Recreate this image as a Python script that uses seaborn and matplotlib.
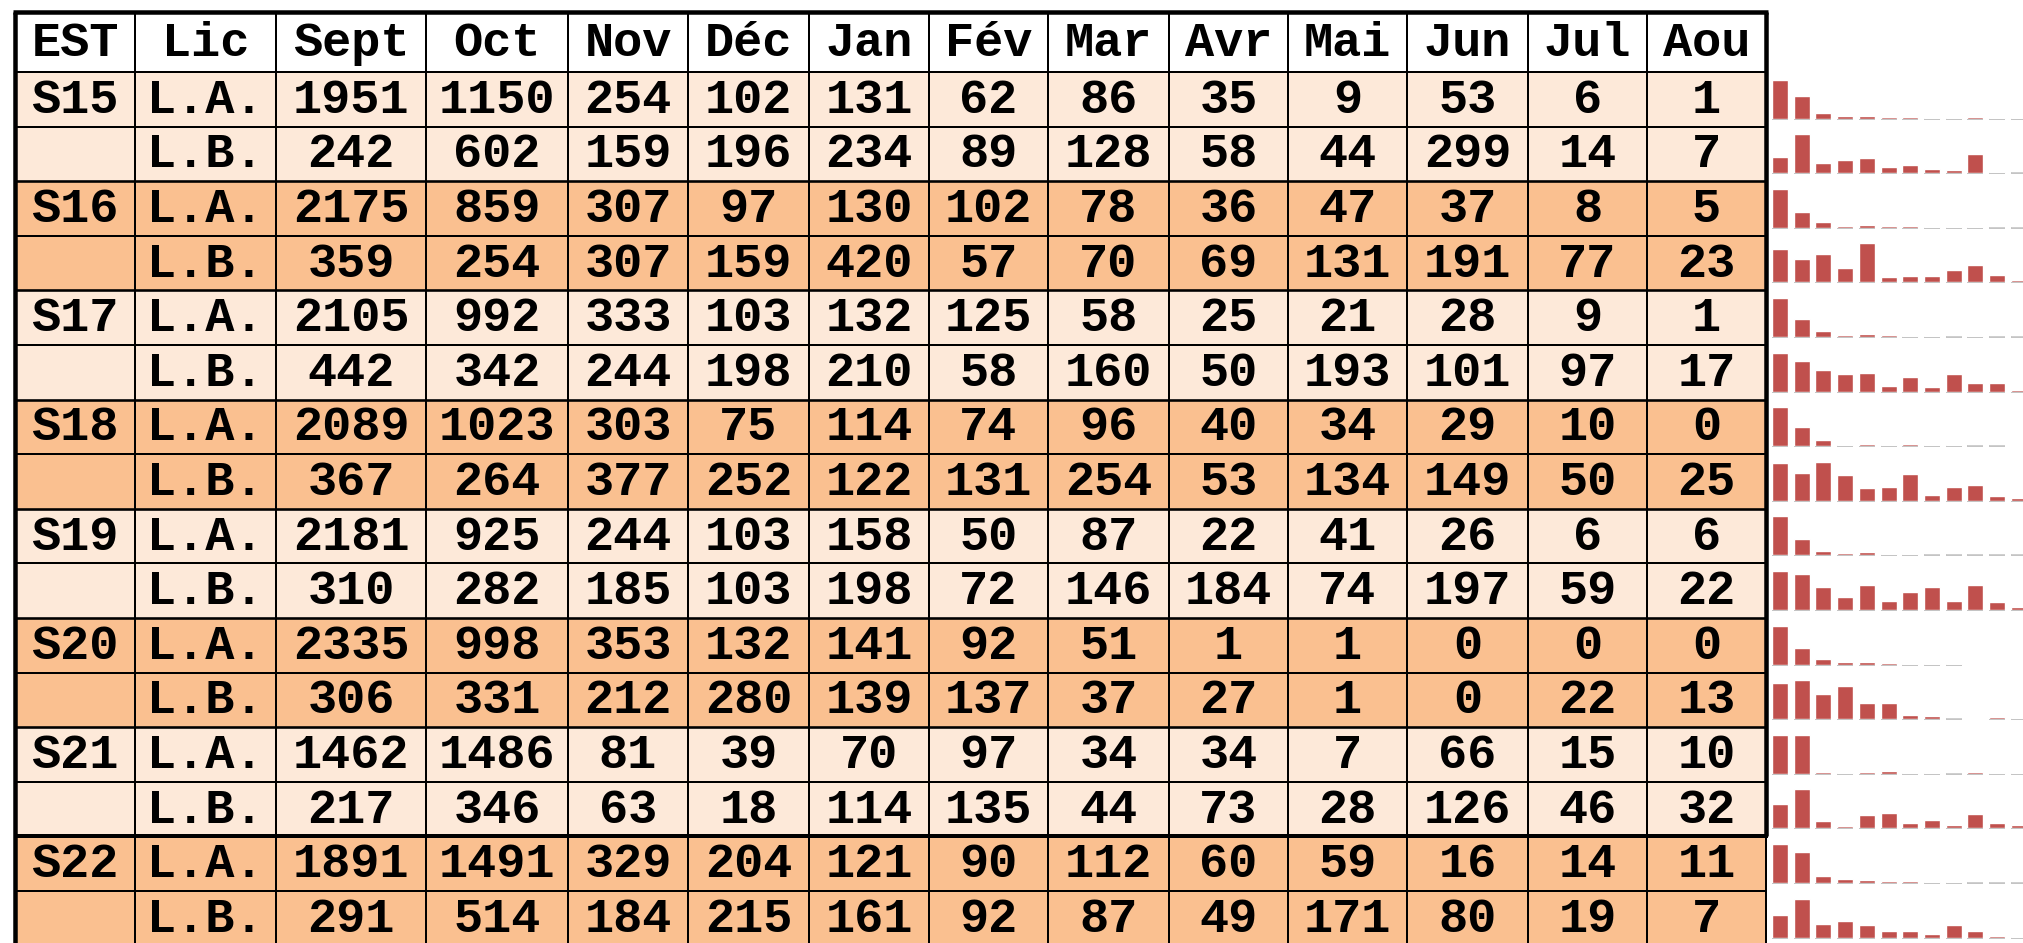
import seaborn as sns
import matplotlib.pyplot as plt
from matplotlib.patches import Rectangle

# data ########################################################################
months = ["Sept", "Oct", "Nov", "Déc", "Jan", "Fév", "Mar", "Avr", "Mai", "Jun", "Jul", "Aou"]
stations = ["S15", "S16", "S17", "S18", "S19", "S20", "S21", "S22"]
licences = ["L.A.", "L.B."]

s15_la = [1951, 1150, 254, 102, 131, 62, 86, 35, 9, 53, 6, 1]
s15_lb = [242, 602, 159, 196, 234, 89, 128, 58, 44, 299, 14, 7]
s16_la = [2175, 859, 307, 97, 130, 102, 78, 36, 47, 37, 8, 5]
s16_lb = [359, 254, 307, 159, 420, 57, 70, 69, 131, 191, 77, 23]
s17_la = [2105, 992, 333, 103, 132, 125, 58, 25, 21, 28, 9, 1]
s17_lb = [442, 342, 244, 198, 210, 58, 160, 50, 193, 101, 97, 17]
s18_la = [2089, 1023, 303, 75, 114, 74, 96, 40, 34, 29, 10, 0]
s18_lb = [367, 264, 377, 252, 122, 131, 254, 53, 134, 149, 50, 25]
s19_la = [2181, 925, 244, 103, 158, 50, 87, 22, 41, 26, 6, 6]
s19_lb = [310, 282, 185, 103, 198, 72, 146, 184, 74, 197, 59, 22]
s20_la = [2335, 998, 353, 132, 141, 92, 51, 1, 1, 0, 0, 0]
s20_lb = [306, 331, 212, 280, 139, 137, 37, 27, 1, 0, 22, 13]
s21_la = [1462, 1486, 81, 39, 70, 97, 34, 34, 7, 66, 15, 10]
s21_lb = [217, 346, 63, 18, 114, 135, 44, 73, 28, 126, 46, 32]
s22_la = [1891, 1491, 329, 204, 121, 90, 112, 60, 59, 16, 14, 11]
s22_lb = [291, 514, 184, 215, 161, 92, 87, 49, 171, 80, 19, 7]

rows = [s15_la, s15_lb, s16_la, s16_lb, s17_la, s17_lb, s18_la, s18_lb,
        s19_la, s19_lb, s20_la, s20_lb, s21_la, s21_lb, s22_la, s22_lb]

# layout (pixels) #############################################################
W, H = 2024, 943
col_edges = [15, 135, 276, 426, 568, 688, 809, 929, 1048, 1169, 1288, 1407, 1528, 1647, 1766]
top, header_h, row_h = 12, 60, 54.6
light, dark, bar_red, stub_grey = "#FDE9D9", "#FAC090", "#C0504D", "#C4C4C4"
px = 72 / 100  # one pixel in points
spark_x0, spark_pitch, bar_w = 1772, 21.7, 0.74

sns.set_style("white")
plt.rcParams["font.family"] = ["Liberation Mono", "DejaVu Sans Mono"]

fig = plt.figure(figsize=(W / 100, H / 100), dpi=100)
ax = fig.add_axes([0, 0, 1, 1])
ax.set_xlim(0, W)
ax.set_ylim(H, 0)
ax.axis("off")

header = ["EST", "Lic"] + months
row_tops = [top + header_h + i * row_h for i in range(len(rows))]
bottom = row_tops[-1] + row_h
thin = 2 * px

# header cells
for j, label in enumerate(header):
    x0, x1 = col_edges[j], col_edges[j + 1]
    ax.text((x0 + x1) / 2, top + header_h / 2 + 1, label, ha="center", va="center",
            fontsize=35, fontweight="bold", color="black")

# body cells
for i, vals in enumerate(rows):
    y0 = row_tops[i]
    fill = light if (i // 2) % 2 == 0 else dark
    ax.add_patch(Rectangle((col_edges[0], y0), col_edges[-1] - col_edges[0], row_h,
                           facecolor=fill, edgecolor="none", zorder=0))
    cells = [stations[i // 2] if i % 2 == 0 else "", licences[i % 2]] + [str(v) for v in vals]
    for j, txt in enumerate(cells):
        xc = (col_edges[j] + col_edges[j + 1]) / 2
        ax.text(xc, y0 + row_h / 2 + 1, txt, ha="center", va="center",
                fontsize=35, fontweight="bold", color="black")

# grid lines
for x in col_edges[1:-1]:
    ax.vlines(x, top, bottom, color="black", lw=thin)
ax.vlines(col_edges[-1], row_tops[14], bottom, color="black", lw=thin)
ax.hlines(top + header_h, col_edges[0], col_edges[-1], color="black", lw=thin)
for i, y in enumerate(row_tops[1:], start=1):
    ax.hlines(y, col_edges[0], col_edges[-1], color="black", lw=thin if i % 2 else 2.6 * px)

# thick outer border
ax.hlines(top, col_edges[0] - 2, col_edges[-1] + 2, color="black", lw=4.5 * px)
ax.vlines(col_edges[0], top, H + 5, color="black", lw=4.5 * px)
ax.vlines(col_edges[-1], top, row_tops[14], color="black", lw=4.5 * px)
ax.hlines(row_tops[14], col_edges[0], col_edges[-1] + 2, color="black", lw=4 * px)

# sparklines ##################################################################
span = spark_pitch * (len(months) - 1 + bar_w)
for i, vals in enumerate(rows):
    y_base = row_tops[i] + 46.5
    y_top = row_tops[i] + 7.5
    sax = fig.add_axes([(spark_x0) / W, 1 - y_base / H, span / W, (y_base - y_top) / H])
    sns.barplot(x=months, y=vals, order=months, color=bar_red, saturation=1,
                width=bar_w, errorbar=None, ax=sax, zorder=2)
    for k, v in enumerate(vals):
        if v > 0:
            sax.hlines(0, k - bar_w / 2, k + bar_w / 2, color=stub_grey, lw=2 * px,
                       zorder=1, clip_on=False)
    sax.set_xlim(-bar_w / 2, len(months) - 1 + bar_w / 2)
    sax.set_ylim(0, max(vals))
    sax.axis("off")

fig.savefig("out.png", dpi=100)
